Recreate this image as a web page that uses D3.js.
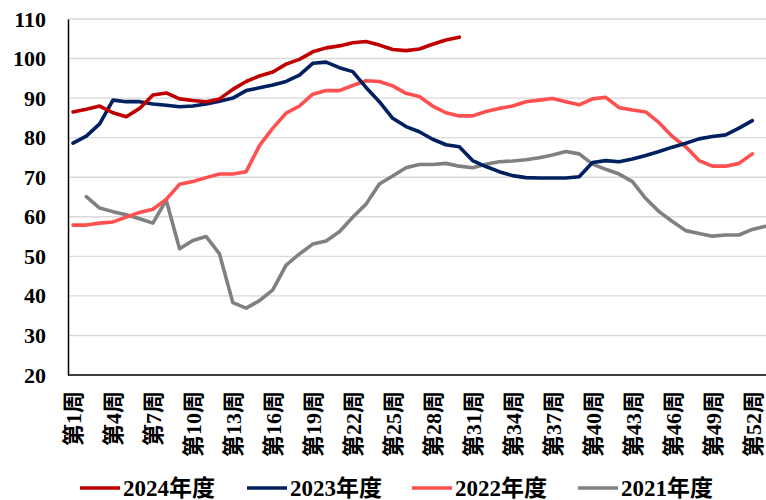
<!DOCTYPE html>
<html>
<head>
<meta charset="utf-8">
<script src="https://cdn.jsdelivr.net/npm/d3@7"></script>
<style>
  html, body { margin: 0; padding: 0; background: #fff; }
  svg { display: block; }
  text { font-family: "Liberation Serif", "Noto Sans CJK SC", serif; font-weight: bold; fill: #000; }
</style>
</head>
<body>
<svg id="chart" width="766" height="500"></svg>
<script>
// Week categories (53 slots; ticks labelled every 3 weeks)
const weeks = d3.range(1, 54);
const tickWeeks = [1, 4, 7, 10, 13, 16, 19, 22, 25, 28, 31, 34, 37, 40, 43, 46, 49, 52];
const yTicks = [20, 30, 40, 50, 60, 70, 80, 90, 100, 110];

const seriesNames = ["2024年度", "2023年度", "2022年度", "2021年度"];
const seriesColors = ["#C00000", "#002060", "#FF5050", "#808080"];

// Weekly values, starting at week 1 (null = no data)
const v2024 = [86.5, 87.2, 88.0, 86.3, 85.3, 87.4, 90.8, 91.3, 89.8, 89.4,
               89.1, 89.8, 92.2, 94.2, 95.6, 96.6, 98.6, 99.8, 101.7, 102.7,
               103.2, 104.0, 104.3, 103.4, 102.3, 102.0, 102.4, 103.6, 104.7, 105.4];
const v2023 = [78.6, 80.4, 83.5, 89.5, 89.1, 89.1, 88.5, 88.2, 87.8, 88.0,
               88.5, 89.2, 90.0, 91.9, 92.6, 93.3, 94.2, 95.8, 98.8, 99.1,
               97.7, 96.7, 92.7, 89.1, 84.9, 82.8, 81.5, 79.6, 78.2, 77.7,
               74.2, 72.7, 71.4, 70.4, 69.9, 69.8, 69.8, 69.8, 70.1, 73.7,
               74.2, 73.9, 74.6, 75.5, 76.5, 77.6, 78.6, 79.7, 80.3, 80.7,
               82.4, 84.3];
const v2022 = [57.9, 57.9, 58.4, 58.7, 59.9, 61.1, 61.9, 64.4, 68.2, 68.9,
               69.9, 70.8, 70.8, 71.4, 78.0, 82.4, 86.2, 88.0, 91.0, 91.9,
               91.9, 93.2, 94.4, 94.2, 93.1, 91.2, 90.4, 88.0, 86.3, 85.5,
               85.5, 86.6, 87.4, 88.0, 89.1, 89.5, 89.9, 89.1, 88.3, 89.8,
               90.2, 87.6, 87.0, 86.5, 83.8, 80.3, 77.7, 74.2, 72.8, 72.8,
               73.5, 75.9];
const v2021 = [null, 65.1, 62.2, 61.3, 60.5, 59.5, 58.4, 64.2, 51.9, 54.0,
               55.0, 50.6, 38.3, 36.9, 38.8, 41.5, 47.8, 50.6, 53.1, 53.9,
               56.2, 59.9, 63.2, 68.3, 70.3, 72.4, 73.2, 73.2, 73.5, 72.8,
               72.4, 73.3, 73.9, 74.1, 74.4, 74.9, 75.6, 76.5, 75.9, 73.3,
               72.0, 70.8, 68.9, 64.6, 61.3, 58.8, 56.5, 55.8, 55.1, 55.4,
               55.4, 56.8, 57.6];
const seriesValues = [v2024, v2023, v2022, v2021];

const svg = d3.select("#chart");
const plot = { left: 68, right: 766, top: 19, bottom: 375 };

const x = d3.scalePoint()
  .domain(weeks)
  .range([73, 73 + 52 * 13.32]);

const y = d3.scaleLinear()
  .domain([20, 110])
  .range([plot.bottom, plot.top]);

// Horizontal gridlines
svg.append("g")
  .selectAll("line")
  .data(yTicks.filter(t => t > 20))
  .join("line")
  .attr("x1", plot.left).attr("x2", plot.right)
  .attr("y1", d => y(d)).attr("y2", d => y(d))
  .attr("stroke", "#D9D9D9")
  .attr("stroke-width", 1.4);

// Y axis
const yAxis = svg.append("g")
  .attr("transform", `translate(${plot.left},0)`)
  .call(d3.axisLeft(y).tickValues(yTicks).tickSize(0).tickPadding(22));
yAxis.select(".domain").attr("stroke", "#000").attr("stroke-width", 1.5);
yAxis.selectAll("text")
  .attr("font-size", 22)
  .attr("font-family", "Liberation Serif, serif")
  .attr("font-weight", "bold")
  .attr("fill", "#000");

// X axis
const xAxis = svg.append("g")
  .attr("transform", `translate(0,${plot.bottom})`)
  .call(d3.axisBottom(x).tickValues(tickWeeks).tickSize(0).tickFormat(d => `第${d}周`));
xAxis.select(".domain")
  .attr("d", `M${plot.left},0H${plot.right}`)
  .attr("stroke", "#000").attr("stroke-width", 1.5);
xAxis.selectAll("text")
  .attr("font-size", 22)
  .attr("font-weight", "bold")
  .attr("fill", "#000")
  .attr("text-anchor", "end")
  .attr("transform", "rotate(-90)")
  .attr("x", -16)
  .attr("y", 0)
  .attr("dy", "0.36em");

// Lines (older seasons drawn first)
const line = d3.line()
  .defined(d => d.v != null)
  .x(d => x(d.w))
  .y(d => y(d.v));

const order = [3, 2, 1, 0];
svg.append("g")
  .selectAll("path")
  .data(order)
  .join("path")
  .attr("d", i => line(seriesValues[i].map((v, k) => ({ w: weeks[k], v }))))
  .attr("fill", "none")
  .attr("stroke", i => seriesColors[i])
  .attr("stroke-width", 3.6)
  .attr("stroke-linejoin", "round")
  .attr("stroke-linecap", "round");

// Legend
const legendX = [80, 247, 412, 578];
const legend = svg.append("g")
  .selectAll("g")
  .data(seriesNames)
  .join("g")
  .attr("transform", (d, i) => `translate(${legendX[i]},488)`);
legend.append("line")
  .attr("x1", 0).attr("x2", 40)
  .attr("stroke", (d, i) => seriesColors[i])
  .attr("stroke-width", 3.6);
legend.append("text")
  .attr("x", 43)
  .attr("y", 7.5)
  .attr("font-size", 23)
  .text(d => d);
</script>
</body>
</html>
